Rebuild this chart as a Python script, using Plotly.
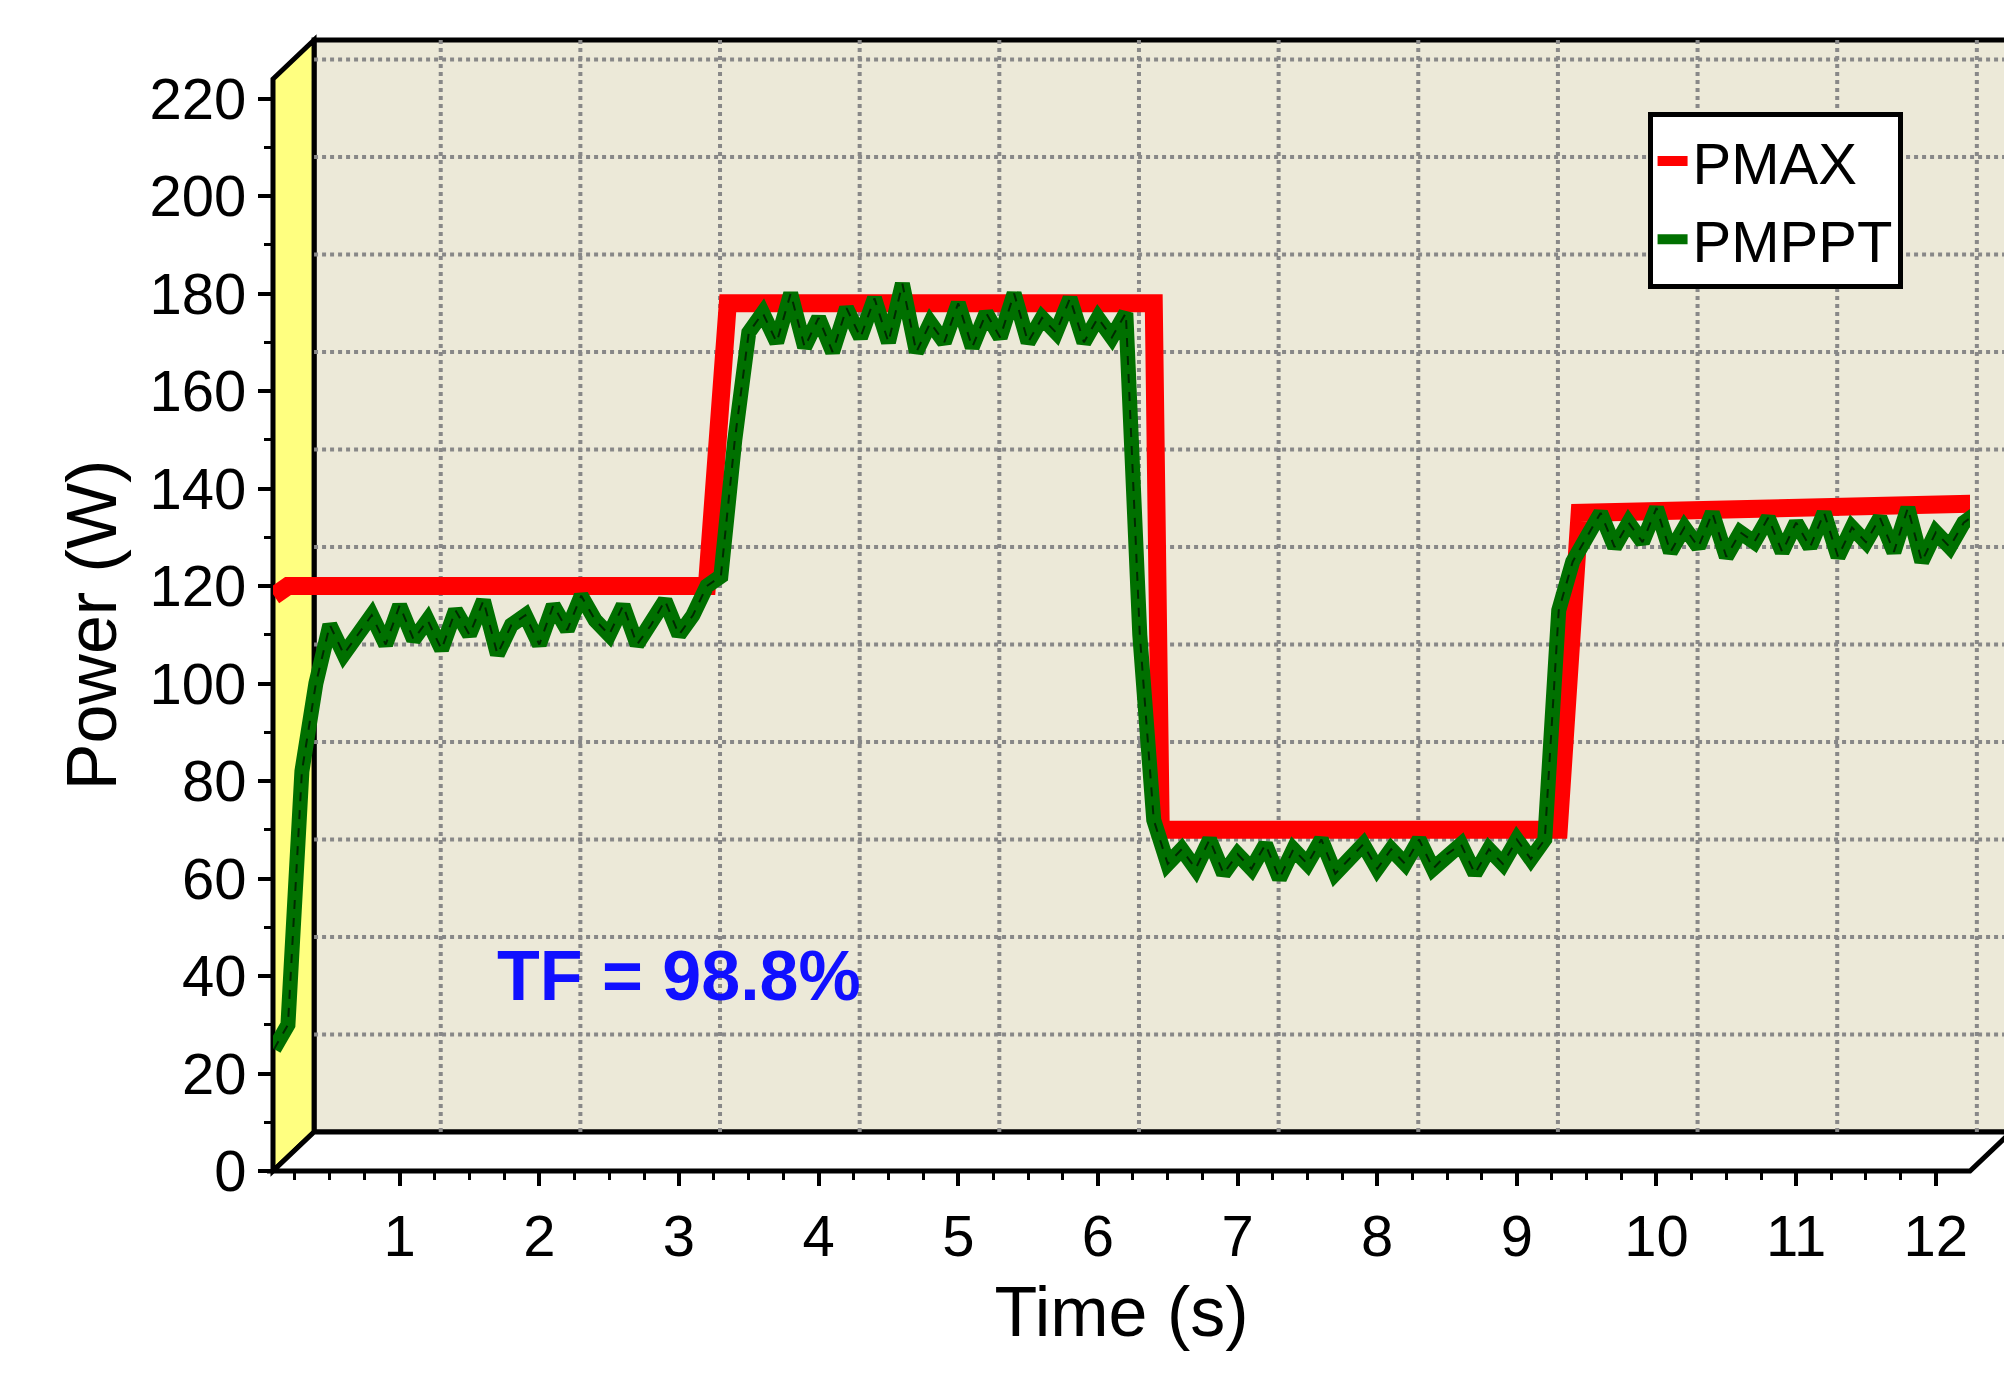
import numpy as np
import plotly.graph_objects as go

# PMAX reference (step profile)
pmax_t = [0.1, 0.2, 3.2, 3.35, 6.4, 6.45, 9.3, 9.45, 12.45]
pmax_p = [118, 120, 120, 178, 178, 70, 70, 135, 137]

# PMPPT tracked power, read every 0.1 s
mppt_t = np.round(np.arange(0.1, 12.45, 0.1), 2)
mppt_p = [25, 30, 82, 100, 112, 106, 110, 114, 108, 116,
          109, 113, 107, 115, 110, 117, 106, 112, 114, 108,
          116, 111, 118, 113, 110, 116, 108, 112, 117, 110,
          114, 120, 122, 150, 172, 176, 170, 180, 169, 175,
          168, 177, 171, 179, 170, 182, 168, 174, 170, 178,
          169, 176, 171, 180, 170, 175, 172, 179, 170, 175,
          171, 176, 110, 72, 63, 66, 62, 68, 61, 65,
          62, 67, 60, 66, 63, 68, 61, 64, 67, 62,
          66, 63, 68, 62, 65, 67, 61, 66, 63, 68,
          64, 68, 115, 125, 130, 135, 128, 133, 129, 136,
          127, 132, 128, 135, 126, 131, 129, 134, 127, 133,
          128, 135, 126, 132, 129, 134, 127, 136, 125, 131,
          128, 133, 135, 137]
mppt_t = mppt_t[:len(mppt_p)]

x_ticks = list(range(1, 13))
y_ticks = list(range(0, 221, 20))

XMIN, XMAX = 0.093, 12.245
YMIN, YMAX = 0, 224
dx, dy = 0.0242, 0.0357  # depth offset of the pseudo-3D box

fig = go.Figure()
fig.add_trace(go.Scatter(x=pmax_t, y=pmax_p, mode="lines", name="PMAX",
                         line=dict(color="#ff0000", width=18)))
fig.add_trace(go.Scatter(x=mppt_t, y=mppt_p, mode="lines", name="PMPPT",
                         line=dict(color="#007000", width=15)))
fig.add_trace(go.Scatter(x=mppt_t, y=mppt_p, mode="lines", showlegend=False,
                         line=dict(color="#002a00", width=2, dash="dash")))

shapes = []
# back wall
shapes.append(dict(type="rect", xref="paper", yref="paper", x0=dx, x1=1 + dx, y0=dy, y1=1 + dy,
                   fillcolor="#ece9d8", line=dict(color="black", width=5), layer="below"))
# left wall
shapes.append(dict(type="path", xref="paper", yref="paper",
                   path=f"M 0 0 L {dx} {dy} L {dx} {1+dy} L 0 1 Z",
                   fillcolor="#ffff80", line=dict(color="black", width=5), layer="below"))
# floor
shapes.append(dict(type="path", xref="paper", yref="paper",
                   path=f"M 0 0 L 1 0 L {1+dx} {dy} L {dx} {dy} Z",
                   fillcolor="white", line=dict(color="black", width=5), layer="below"))
# dotted grid on back wall
for v in y_ticks[1:]:
    yp = (v - YMIN) / (YMAX - YMIN) + dy
    shapes.append(dict(type="line", xref="paper", yref="paper", x0=dx, x1=1 + dx, y0=yp, y1=yp,
                       line=dict(color="#888888", width=4, dash="dot"), layer="below"))
for t in x_ticks:
    xp = (t - XMIN) / (XMAX - XMIN) + dx
    shapes.append(dict(type="line", xref="paper", yref="paper", x0=xp, x1=xp, y0=dy, y1=1 + dy,
                       line=dict(color="#888888", width=4, dash="dot"), layer="below"))

fig.update_layout(
    width=2012, height=1386,
    paper_bgcolor="white", plot_bgcolor="rgba(0,0,0,0)",
    margin=dict(l=265, r=50, t=71, b=223),
    font=dict(family="Liberation Sans, Arial", color="black", size=58),
    shapes=shapes,
    xaxis=dict(range=[XMIN, XMAX], tickvals=x_ticks, showgrid=False, zeroline=False,
               ticks="outside", ticklen=14, tickwidth=4, tickcolor="black",
               minor=dict(dtick=0.25, ticks="outside", ticklen=8, tickwidth=3, tickcolor="black",
                          showgrid=False),
               title=dict(text="Time (s)", standoff=20), tickfont=dict(size=58)),
    yaxis=dict(range=[YMIN, YMAX], tickvals=y_ticks, showgrid=False, zeroline=False,
               ticks="outside", ticklen=14, tickwidth=4, tickcolor="black",
               minor=dict(dtick=10, ticks="outside", ticklen=8, tickwidth=3, tickcolor="black",
                          showgrid=False),
               title=dict(text="Power (W)", standoff=10), tickfont=dict(size=58)),
    legend=dict(x=0.81, y=0.97, xanchor="left", yanchor="top", bgcolor="white",
                bordercolor="black", borderwidth=5, font=dict(size=58),
                itemwidth=30),
    annotations=[dict(x=3.0, y=40, xref="x", yref="y", text="<b>TF = 98.8%</b>",
                      showarrow=False, font=dict(color="#1010ff", size=70))],
)

fig.write_html("out.html")
